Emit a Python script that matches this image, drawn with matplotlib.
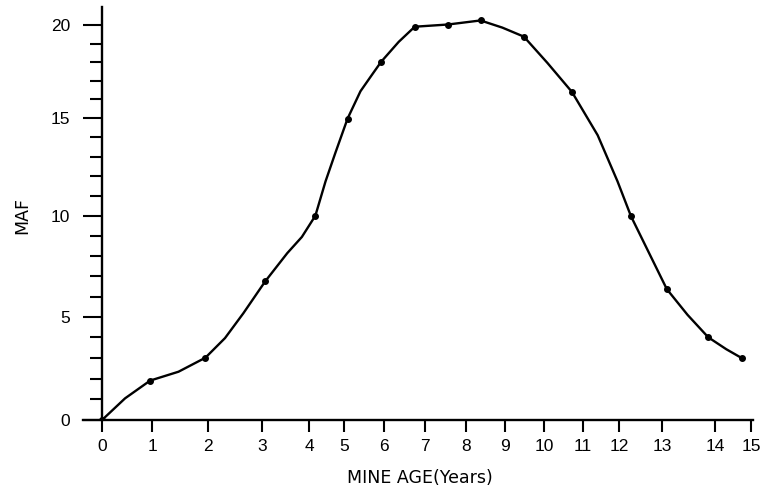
import numpy as np
import matplotlib
matplotlib.use("Agg")
import matplotlib.pyplot as plt
from matplotlib.ticker import FixedLocator

# marked points
mine_age = [0, 0.96, 1.95, 3.06, 4.17, 5.08, 5.94, 6.76, 7.57, 8.38,
            9.49, 10.72, 12.28, 13.09, 13.87, 14.74]
maf = [0, 1.91, 3.02, 6.75, 10.0, 14.95, 18.03, 19.93, 20.05, 20.27,
       19.39, 16.39, 9.97, 6.37, 4.01, 3.0]

# extra points traced along the hand drawn curve between the marks
trace_age = [0.46, 1.47, 2.31, 2.65, 3.53, 3.84, 4.46, 4.74, 5.41, 5.71,
             6.37, 8.94, 10.09, 11.41, 11.96, 12.70, 13.48, 14.31]
trace_maf = [1.05, 2.34, 3.97, 5.18, 8.15, 8.95, 11.75, 13.2, 16.43, 17.34,
             19.11, 19.88, 17.97, 14.1, 11.75, 8.15, 5.10, 3.43]

x_ticks = list(range(16))
y_ticks = [0, 5, 10, 15, 20]

# the hand drawn axes are not evenly spaced: where each tick sits on the page
x_tick_px = [102, 152, 208, 262, 309, 344, 383, 424, 465, 504,
             543, 582, 618, 661, 714, 750]
y_tick_px = [-420, -317, -216, -118, -26]


def piecewise(v, src, dst):
    v = np.asarray(v, dtype=float)
    flat = np.atleast_1d(v).ravel()
    out = np.interp(flat, src, dst)
    lo = flat < src[0]
    hi = flat > src[-1]
    out[lo] = dst[0] + (flat[lo] - src[0]) * (dst[1] - dst[0]) / (src[1] - src[0])
    out[hi] = dst[-1] + (flat[hi] - src[-1]) * (dst[-1] - dst[-2]) / (src[-1] - src[-2])
    return out.reshape(v.shape)


plt.rcParams['font.family'] = ['DejaVu Sans']

fig = plt.figure(figsize=(7.6, 4.9), dpi=100)
W, H = 760, 490
ax = fig.add_axes([83 / W, (H - 420) / H, (753 - 83) / W, (420 - 7) / H])

ax.set_xscale('function', functions=(lambda v: piecewise(v, x_ticks, x_tick_px),
                                     lambda v: piecewise(v, x_tick_px, x_ticks)))
ax.set_yscale('function', functions=(lambda v: piecewise(v, y_ticks, y_tick_px),
                                     lambda v: piecewise(v, y_tick_px, y_ticks)))

# curve through marks and traced points
order = np.argsort(mine_age + trace_age)
curve_x = np.array(mine_age + trace_age)[order]
curve_y = np.array(maf + trace_maf)[order]
ax.plot(curve_x, curve_y, color='black', lw=1.7,
        solid_capstyle='round', solid_joinstyle='round')
ax.plot(mine_age, maf, 'o', color='black', ms=4)

ax.set_xlim(-0.38, 15.05)
ax.set_ylim(0, 21)

for s in ['top', 'right']:
    ax.spines[s].set_visible(False)
ax.spines['left'].set_position(('data', 0))
ax.spines['left'].set_linewidth(1.7)
ax.spines['bottom'].set_linewidth(1.7)

ax.xaxis.set_major_locator(FixedLocator(x_ticks))
ax.yaxis.set_major_locator(FixedLocator(y_ticks))
ax.yaxis.set_minor_locator(FixedLocator([v for v in range(21) if v % 5]))
ax.xaxis.set_minor_locator(FixedLocator([]))
ax.set_xticklabels([str(v) for v in x_ticks], family='Liberation Sans')
ax.set_yticklabels([str(v) for v in y_ticks], family='Liberation Sans')

ax.tick_params(axis='x', direction='out', length=8.5, width=1.5, pad=5,
               labelsize=12.5)
ax.tick_params(axis='y', which='major', direction='out', length=14, width=1.5,
               pad=9, labelsize=12.5)
ax.tick_params(axis='y', which='minor', direction='out', length=8.5, width=1.5)

fig.text(22 / W, 1 - 215 / H, 'MAF', rotation=90, ha='center', va='center',
         fontsize=12.5)
fig.text(420 / W, 1 - 478 / H, 'MINE AGE(Years)', ha='center', va='center',
         fontsize=12.5)

fig.savefig('out.png', dpi=100)
